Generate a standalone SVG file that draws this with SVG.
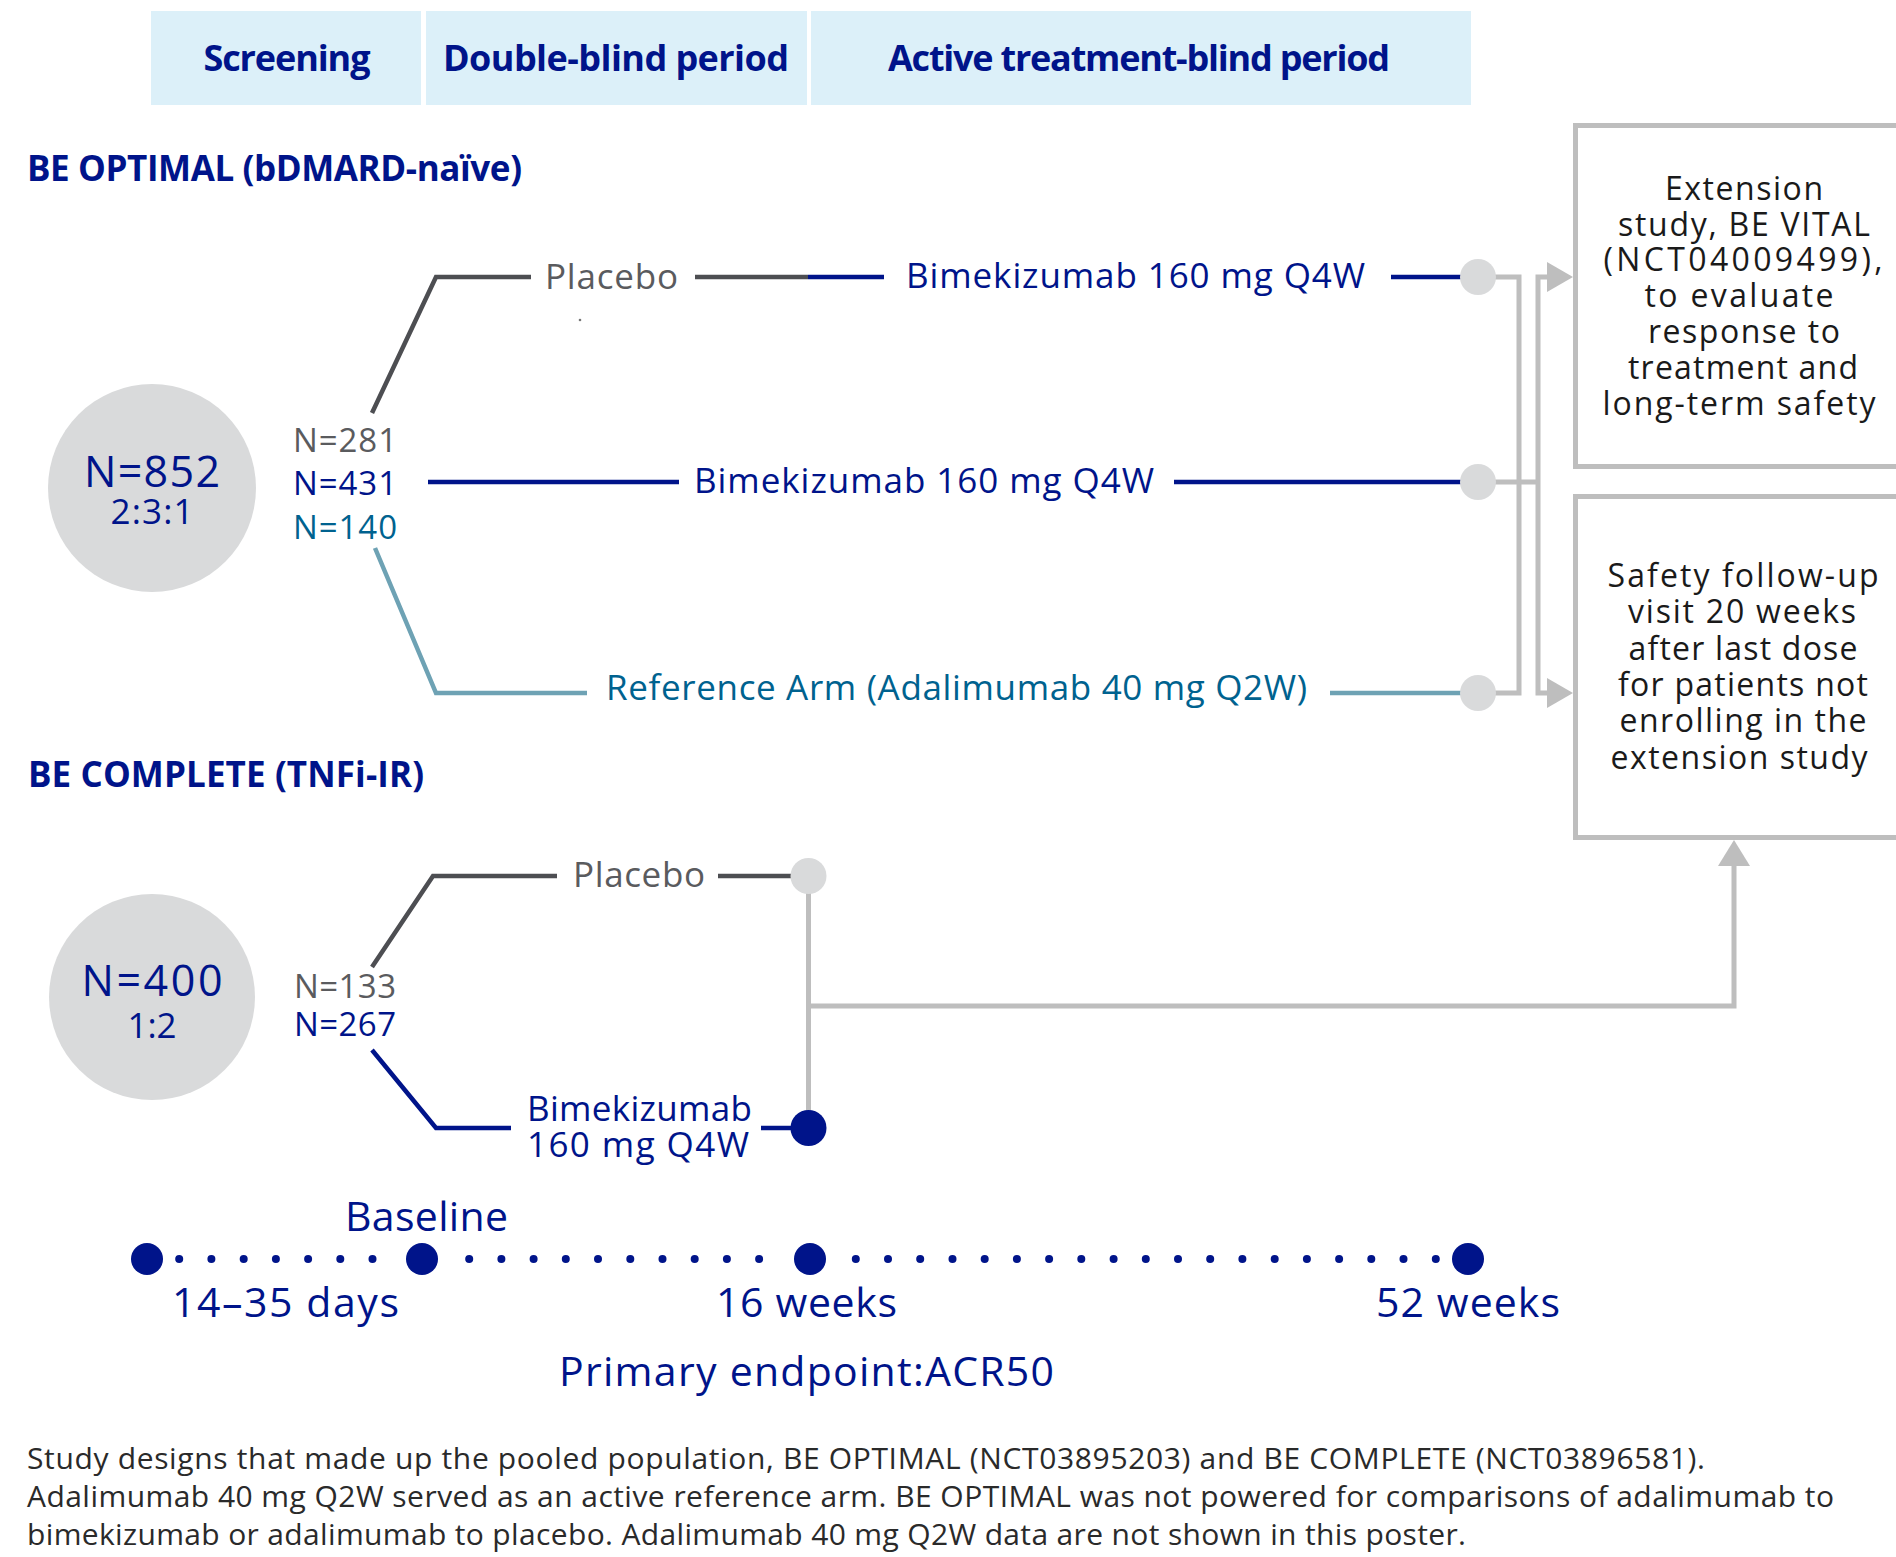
<svg xmlns="http://www.w3.org/2000/svg" width="1896" height="1557" viewBox="0 0 1896 1557">
<style>
text{font-family:"Open Sans","Lato","Liberation Sans",sans-serif;}
.hd{font-size:36px;font-weight:700;fill:#00148a;text-anchor:middle;}
.st{font-size:35px;font-weight:700;fill:#00148a;}
.nv{fill:#00148a;}
.gy{fill:#5a5b5e;}
.tl{fill:#00628f;}
.n{font-size:33px;}
.arm{font-size:35px;}
.bx{font-size:32px;fill:#1a1a1a;text-anchor:middle;}
.tm{font-size:41px;fill:#00148a;}
.ft{font-size:30px;fill:#2a2a2a;}
.lnav{stroke:#00148a;stroke-width:4.5;fill:none;}
.lgry{stroke:#4d4e52;stroke-width:4.5;fill:none;}
.ltl{stroke:#6ea2b4;stroke-width:4.5;fill:none;}
.con{stroke:#bebebe;stroke-width:5;fill:none;}
.dotg{fill:#d9dadb;}
.dotn{fill:#00148a;}
.box{fill:#ffffff;stroke:#bebebe;stroke-width:5;}
</style>

<g id="header">
  <rect x="151" y="11" width="270" height="94" fill="#dcf0f9"/>
  <rect x="426" y="11" width="381" height="94" fill="#dcf0f9"/>
  <rect x="811" y="11" width="660" height="94" fill="#dcf0f9"/>
  <text class="hd" x="287" y="71" textLength="167">Screening</text>
  <text class="hd" x="616" y="71" textLength="346">Double-blind period</text>
  <text class="hd" x="1139" y="71" textLength="502">Active treatment-blind period</text>
</g>

<g id="study-titles">
  <text class="st" x="27" y="181" textLength="495">BE OPTIMAL (bDMARD-naïve)</text>
  <text class="st" x="28" y="787" textLength="396">BE COMPLETE (TNFi-IR)</text>
</g>

<g id="connectors">
  <!-- BE OPTIMAL arms -->
  <path class="lgry" d="M372,413 L436,277 H531"/>
  <path class="lgry" d="M695,277 H808"/>
  <path class="lnav" d="M808,277 H884"/>
  <path class="lnav" d="M1391,277 H1461"/>
  <path class="lnav" d="M428,482 H679"/>
  <path class="lnav" d="M1174,482 H1461"/>
  <path class="ltl" d="M375,548 L436,693 H587"/>
  <path class="ltl" d="M1330,693 H1461"/>
  <!-- brackets to boxes -->
  <path class="con" d="M1478,277 H1519 V693 H1478"/>
  <path class="con" d="M1478,482 H1538"/>
  <path class="con" d="M1550,277 H1538 V693 H1550"/>
  <polygon points="1547,262 1573,277 1547,292" fill="#bebebe"/>
  <polygon points="1547,678 1573,693 1547,708" fill="#bebebe"/>
  <!-- BE COMPLETE arms -->
  <path class="lgry" d="M372,967 L433,876 H557"/>
  <path class="lgry" d="M718,876 H792"/>
  <path class="lnav" d="M372,1050 L436,1128 H511"/>
  <path class="lnav" d="M761,1128 H792"/>
  <path class="con" d="M808.5,876 V1128"/>
  <path class="con" d="M808.5,1006 H1734 V864"/>
  <polygon points="1718,866 1734,840 1750,866" fill="#bebebe"/>
</g>

<g id="be-optimal-pop">
  <circle class="dotg" cx="152" cy="488" r="104"/>
  <text class="nv" x="152" y="487" font-size="43" text-anchor="middle" textLength="136">N=852</text>
  <text class="nv" x="152" y="524" font-size="35" text-anchor="middle" textLength="83">2:3:1</text>
</g>

<g id="be-optimal-n">
  <text class="n gy" x="293" y="452" textLength="104">N=281</text>
  <text class="n nv" x="293" y="495" textLength="104">N=431</text>
  <text class="n tl" x="293" y="539" textLength="104">N=140</text>
</g>

<g id="arm-placebo-1">
  <text class="arm gy" x="545" y="289" textLength="133">Placebo</text>
  <circle cx="580" cy="320" r="1.3" fill="#777"/>
  <text class="arm nv" x="906" y="288" textLength="459">Bimekizumab 160 mg Q4W</text>
  <circle class="dotg" cx="1478" cy="277" r="18"/>
</g>

<g id="arm-bkz-1">
  <text class="arm nv" x="694" y="493" textLength="460">Bimekizumab 160 mg Q4W</text>
  <circle class="dotg" cx="1478" cy="482" r="18"/>
</g>

<g id="arm-ref">
  <text class="arm tl" x="606" y="700" textLength="701">Reference Arm (Adalimumab 40 mg Q2W)</text>
  <circle class="dotg" cx="1478" cy="693" r="18"/>
</g>

<g id="box-extension">
  <rect class="box" x="1575.5" y="125.5" width="400" height="341"/>
  <text class="bx" x="1744" y="200" textLength="158">Extension</text>
  <text class="bx" x="1744" y="236" textLength="252">study, BE VITAL</text>
  <text class="bx" x="1743" y="271" textLength="279">(NCT04009499),</text>
  <text class="bx" x="1739" y="307" textLength="189">to evaluate</text>
  <text class="bx" x="1744" y="343" textLength="192">response to</text>
  <text class="bx" x="1743" y="379" textLength="230">treatment and</text>
  <text class="bx" x="1739" y="415" textLength="273">long-term safety</text>
</g>

<g id="box-safety">
  <rect class="box" x="1575.5" y="496.5" width="400" height="341"/>
  <text class="bx" x="1743" y="587" textLength="271">Safety follow-up</text>
  <text class="bx" x="1742" y="623" textLength="228">visit 20 weeks</text>
  <text class="bx" x="1743" y="660" textLength="229">after last dose</text>
  <text class="bx" x="1743" y="696" textLength="250">for patients not</text>
  <text class="bx" x="1743" y="732" textLength="247">enrolling in the</text>
  <text class="bx" x="1739" y="769" textLength="257">extension study</text>
</g>

<g id="be-complete-pop">
  <circle class="dotg" cx="152" cy="997" r="103"/>
  <text class="nv" x="152" y="996" font-size="43" text-anchor="middle" textLength="141">N=400</text>
  <text class="nv" x="152" y="1038" font-size="35" text-anchor="middle">1:2</text>
</g>

<g id="be-complete-n">
  <text class="n gy" x="294" y="998" textLength="102">N=133</text>
  <text class="n nv" x="294" y="1036" textLength="102">N=267</text>
</g>

<g id="arm-placebo-2">
  <text class="arm gy" x="573" y="887" textLength="132">Placebo</text>
  <circle class="dotg" cx="808.5" cy="876" r="18"/>
</g>

<g id="arm-bkz-2">
  <text class="arm nv" x="527" y="1121" textLength="225">Bimekizumab</text>
  <text class="arm nv" x="527" y="1157" textLength="222">160 mg Q4W</text>
  <circle class="dotn" cx="808.5" cy="1128" r="18"/>
</g>

<g id="timeline">
  <g class="dotn">
    <circle cx="179.2" cy="1259" r="4"/>
    <circle cx="211.4" cy="1259" r="4"/>
    <circle cx="243.7" cy="1259" r="4"/>
    <circle cx="275.9" cy="1259" r="4"/>
    <circle cx="308.1" cy="1259" r="4"/>
    <circle cx="340.3" cy="1259" r="4"/>
    <circle cx="372.5" cy="1259" r="4"/>
    <circle cx="469.2" cy="1259" r="4"/>
    <circle cx="501.4" cy="1259" r="4"/>
    <circle cx="533.6" cy="1259" r="4"/>
    <circle cx="565.8" cy="1259" r="4"/>
    <circle cx="598.0" cy="1259" r="4"/>
    <circle cx="630.3" cy="1259" r="4"/>
    <circle cx="662.5" cy="1259" r="4"/>
    <circle cx="694.7" cy="1259" r="4"/>
    <circle cx="726.9" cy="1259" r="4"/>
    <circle cx="759.1" cy="1259" r="4"/>
    <circle cx="855.8" cy="1259" r="4"/>
    <circle cx="888.0" cy="1259" r="4"/>
    <circle cx="920.2" cy="1259" r="4"/>
    <circle cx="952.5" cy="1259" r="4"/>
    <circle cx="984.7" cy="1259" r="4"/>
    <circle cx="1016.9" cy="1259" r="4"/>
    <circle cx="1049.1" cy="1259" r="4"/>
    <circle cx="1081.3" cy="1259" r="4"/>
    <circle cx="1113.6" cy="1259" r="4"/>
    <circle cx="1145.8" cy="1259" r="4"/>
    <circle cx="1178.0" cy="1259" r="4"/>
    <circle cx="1210.2" cy="1259" r="4"/>
    <circle cx="1242.4" cy="1259" r="4"/>
    <circle cx="1274.7" cy="1259" r="4"/>
    <circle cx="1306.9" cy="1259" r="4"/>
    <circle cx="1339.1" cy="1259" r="4"/>
    <circle cx="1371.3" cy="1259" r="4"/>
    <circle cx="1403.5" cy="1259" r="4"/>
    <circle cx="1435.8" cy="1259" r="4"/>
    <circle cx="147" cy="1259" r="16"/>
    <circle cx="422" cy="1259" r="16"/>
    <circle cx="810" cy="1259" r="16"/>
    <circle cx="1468" cy="1259" r="16"/>
  </g>
  <text class="tm" x="345" y="1231" textLength="163">Baseline</text>
  <text class="tm" x="172" y="1317" textLength="227">14–35 days</text>
  <text class="tm" x="716" y="1317" textLength="181">16 weeks</text>
  <text class="tm" x="1376" y="1317" textLength="184">52 weeks</text>
  <text class="tm" x="559" y="1386" textLength="495">Primary endpoint:ACR50</text>
</g>

<g id="footnote">
  <text class="ft" x="27" y="1469" textLength="1678">Study designs that made up the pooled population, BE OPTIMAL (NCT03895203) and BE COMPLETE (NCT03896581).</text>
  <text class="ft" x="27" y="1507" textLength="1807">Adalimumab 40 mg Q2W served as an active reference arm. BE OPTIMAL was not powered for comparisons of adalimumab to</text>
  <text class="ft" x="27" y="1545" textLength="1439">bimekizumab or adalimumab to placebo. Adalimumab 40 mg Q2W data are not shown in this poster.</text>
</g>
</svg>
